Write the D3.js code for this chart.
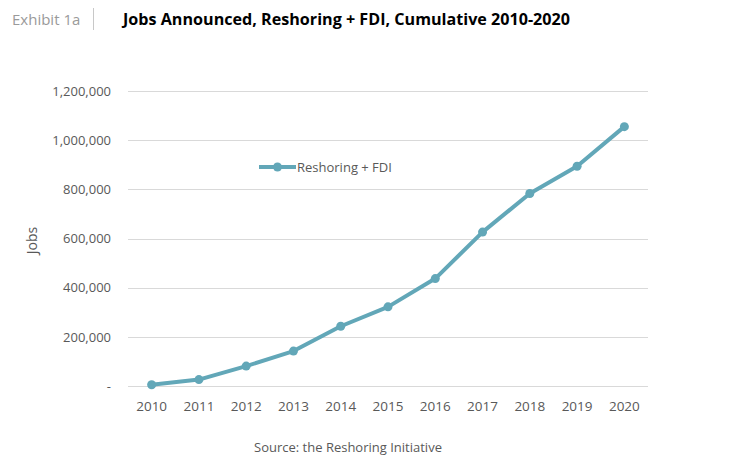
<!DOCTYPE html>
<html>
<head>
<meta charset="utf-8">
<script src="https://cdn.jsdelivr.net/npm/d3@7"></script>
<style>
    body { margin: 0; background: #fff; }
    text { font-family: "Open Sans", "Noto Sans", sans-serif; }
</style>
</head>
<body>
<script>
// chart values
const years = ['2010', '2011', '2012', '2013', '2014', '2015', '2016', '2017', '2018', '2019', '2020'];
const jobs = [5000, 26000, 81000, 142000, 243000, 322000, 437000, 626000, 783000, 894000, 1055000];
const yTicks = [0, 200000, 400000, 600000, 800000, 1000000, 1200000];
const seriesName = 'Reshoring + FDI';

const draw = () => {
    let w = 736,
        h = 461;

    let margin = { top: 91, right: 88, bottom: 75, left: 128 };
    let lineColor = '#62a7b8';

    let svg = d3.select('body')
        .append('svg')
        .attr('width', w)
        .attr('height', h);

    let x = d3.scaleBand()
        .domain(years)
        .range([margin.left, w - margin.right]);

    let y = d3.scaleLinear()
        .domain([0, 1200000])
        .range([h - margin.bottom, margin.top]);

    // header
    svg.append('text')
        .attr('x', 12)
        .attr('y', 25)
        .attr('font-size', 15)
        .attr('fill', '#9a9a9a')
        .text('Exhibit 1a');

    svg.append('line')
        .attr('x1', 93.5).attr('x2', 93.5)
        .attr('y1', 8).attr('y2', 30)
        .attr('stroke', '#c8c8c8');

    svg.append('text')
        .attr('x', 123)
        .attr('y', 25)
        .attr('font-size', 15.5)
        .attr('font-weight', 'bold')
        .attr('fill', '#000')
        .attr('textLength', 447)
        .attr('lengthAdjust', 'spacingAndGlyphs')
        .text('Jobs Announced, Reshoring + FDI, Cumulative 2010-2020');

    // gridlines
    svg.append('g')
        .selectAll('line')
        .data(yTicks)
        .enter()
        .append('line')
        .attr('x1', margin.left)
        .attr('x2', w - margin.right)
        .attr('y1', d => Math.round(y(d)) + 0.5)
        .attr('y2', d => Math.round(y(d)) + 0.5)
        .attr('stroke', '#d9d9d9')
        .attr('stroke-width', 1);

    // y axis labels
    let fmt = d3.format(',');
    let yAxis = d3.axisLeft(y)
        .tickValues(yTicks)
        .tickSize(0)
        .tickPadding(17)
        .tickFormat(d => d === 0 ? '-' : fmt(d));

    svg.append('g')
        .attr('transform', `translate(${margin.left},0)`)
        .call(yAxis)
        .call(g => g.select('.domain').remove())
        .selectAll('text')
        .attr('font-size', 13)
        .attr('fill', '#595959')
        .attr('font-family', '"Open Sans", sans-serif');

    // x axis labels
    let xAxis = d3.axisBottom(x)
        .tickSize(0)
        .tickPadding(15);

    svg.append('g')
        .attr('transform', `translate(0,${h - margin.bottom})`)
        .call(xAxis)
        .call(g => g.select('.domain').remove())
        .selectAll('text')
        .attr('font-size', 13.5)
        .attr('fill', '#595959')
        .attr('font-family', '"Open Sans", sans-serif');

    // y axis title
    svg.append('text')
        .attr('transform', `translate(37,${(margin.top + h - margin.bottom) / 2 + 2}) rotate(-90)`)
        .attr('text-anchor', 'middle')
        .attr('font-size', 14)
        .attr('fill', '#595959')
        .text('Jobs');

    // series line
    let line = d3.line()
        .x((d, i) => x(years[i]) + x.bandwidth() / 2)
        .y(d => y(d));

    svg.append('path')
        .datum(jobs)
        .attr('d', line)
        .attr('fill', 'none')
        .attr('stroke', lineColor)
        .attr('stroke-width', 4)
        .attr('stroke-linejoin', 'round');

    svg.selectAll('.dot')
        .data(jobs)
        .enter()
        .append('circle')
        .attr('class', 'dot')
        .attr('cx', (d, i) => x(years[i]) + x.bandwidth() / 2)
        .attr('cy', d => y(d))
        .attr('r', 4.5)
        .attr('fill', lineColor);

    // legend
    let legend = svg.append('g')
        .attr('transform', 'translate(259,167)');

    legend.append('line')
        .attr('x1', 0).attr('x2', 37)
        .attr('y1', 0).attr('y2', 0)
        .attr('stroke', lineColor)
        .attr('stroke-width', 4);

    legend.append('circle')
        .attr('cx', 18.5)
        .attr('cy', 0)
        .attr('r', 4.5)
        .attr('fill', lineColor);

    legend.append('text')
        .attr('x', 38)
        .attr('y', 4.5)
        .attr('font-size', 13)
        .attr('fill', '#595959')
        .text(seriesName);

    // source note
    svg.append('text')
        .attr('x', 348)
        .attr('y', 452)
        .attr('text-anchor', 'middle')
        .attr('font-size', 13)
        .attr('fill', '#595959')
        .text('Source: the Reshoring Initiative');
}

draw()
</script>
</body>
</html>
